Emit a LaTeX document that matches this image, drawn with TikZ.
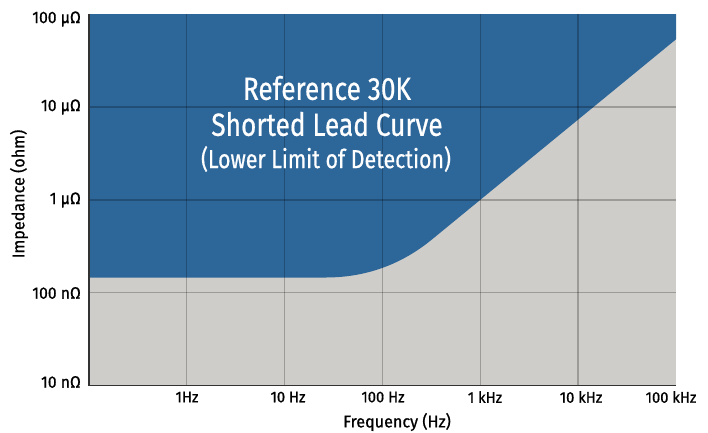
\documentclass[tikz,border=0pt]{standalone}
\usepackage{fontspec}
\setmainfont{Fira Sans}[FakeStretch=0.95,FakeBold=0.8]
\newfontfamily\titlefont{Fira Sans}[FakeStretch=0.82,FakeBold=0.6]
\definecolor{plotblue}{RGB}{45,102,153}
\definecolor{plotgray}{RGB}{207,205,201}
\definecolor{axisdark}{RGB}{50,50,50}
\begin{document}
\begin{tikzpicture}[x=1pt,y=-1pt,
  gridline/.style={draw=black,opacity=0.24,line width=1.1pt},
  axisline/.style={draw=axisdark,line width=1.5pt},
  ylab/.style={anchor=east,font=\fontsize{16.5}{18}\selectfont,inner sep=0pt},
  xlab/.style={anchor=center,font=\fontsize{15.5}{17}\selectfont,inner sep=0pt},
  titlelab/.style={anchor=center,text=white,font=\titlefont\fontsize{32}{36}\selectfont,inner sep=0pt},
  sublab/.style={anchor=center,text=white,font=\titlefont\fontsize{26}{30}\selectfont,inner sep=0pt}]
\useasboundingbox (0,0) rectangle (708,432);
% background regions
\fill[plotgray] (89,14) rectangle (676,385.5);
\fill[plotblue] (89,14) -- (676,14) -- (676,39.3) -- (431.9,239.5)
  .. controls (401,264.8) and (365.5,277.5) .. (325.5,277.5) -- (89,277.5) -- cycle;
% grid
\foreach \gx in {186.8,284.6,382.4,480.2,578} \draw[gridline] (\gx,14) -- (\gx,385.5);
\foreach \gy in {107,200,292.8} \draw[gridline] (89,\gy) -- (676,\gy);
% axes
\draw[axisline] (89,14) -- (89,385.5) -- (676,385.5);
% y labels
\node[ylab] (y5) at (81,19) {100 μΩ};
\node[ylab] (y4) at (81,107) {10 μΩ};
\node[ylab] (y3) at (81,200) {1 μΩ};
\node[ylab] (y2) at (81,293) {100 nΩ};
\node[ylab] (y1) at (81,382) {10 nΩ};
% x labels
\node[xlab] (x1) at (187,397) {1Hz};
\node[xlab] (x2) at (288,397) {10 Hz};
\node[xlab] (x3) at (383,397) {100 Hz};
\node[xlab] (x4) at (485,397) {1 kHz};
\node[xlab] (x5) at (581,397) {10 kHz};
\node[xlab] (x6) at (671,397) {100 kHz};
% axis titles
\node[xlab,font=\fontsize{17}{19}\selectfont] (xt) at (397,422) {Frequency (Hz)};
\node[xlab,font=\fontsize{17}{19}\selectfont,rotate=90] (yt) at (19,194) {Impedance (ohm)};
% title
\node[titlelab] (t1) at (327,88) {Reference 30K};
\node[titlelab] (t2) at (327,124) {Shorted Lead Curve};
\node[sublab] (t3) at (326,159) {(Lower Limit of Detection)};
\end{tikzpicture}
\end{document}
